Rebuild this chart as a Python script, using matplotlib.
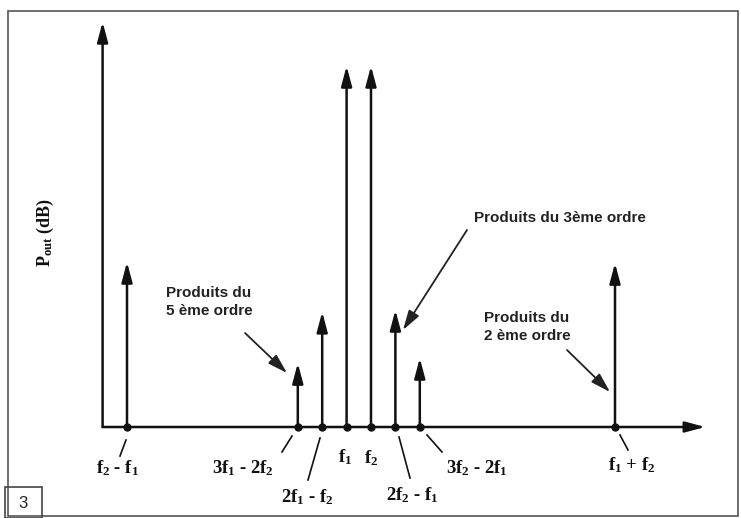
import matplotlib
matplotlib.use("Agg")
import matplotlib.pyplot as plt
from matplotlib.patches import Rectangle

# ---- data -------------------------------------------------------------
# frequencies expressed in units of (f2 - f1), with f1 = 10, f2 = 11
freq_labels = [r"$f_2$ - $f_1$", r"3$f_1$ - 2$f_2$", r"2$f_1$ - $f_2$", r"$f_1$",
               r"$f_2$", r"2$f_2$ - $f_1$", r"3$f_2$ - 2$f_1$", r"$f_1$ + $f_2$"]
freqs = [1, 8, 9, 10, 11, 12, 13, 21]
power = [45.7, 17.7, 31.9, 100, 100, 32.4, 19.1, 45.4]
x_axis_end = 24.7
y_axis_end = 112.2

plt.rcParams["mathtext.fontset"] = "custom"
plt.rcParams["mathtext.rm"] = "Liberation Serif:bold"
plt.rcParams["mathtext.it"] = "Liberation Serif:bold"
plt.rcParams["mathtext.bf"] = "Liberation Serif:bold"

W, H = 741, 518
fig = plt.figure(figsize=(7.41, 5.18), dpi=100, facecolor="white")
ax = fig.add_axes([0, 0, 1, 1])
X0, SX = 102.6, 24.4
Y0, SY = 427.0, 3.61
ax.set_xlim(-X0 / SX, (W - X0) / SX)
ax.set_ylim(-(H - Y0) / SY, Y0 / SY)
ax.axis("off")


def P(px, py):
    return ((px - X0) / SX, (Y0 - py) / SY)


head = "-|>,head_length=0.6,head_width=0.16"
aprops = dict(arrowstyle=head, lw=1.8, color="#111111", mutation_scale=20,
              shrinkA=0, shrinkB=0)

# frame
fx0, fy0 = P(8, 516)
fx1, fy1 = P(738, 11)
ax.add_patch(Rectangle((fx0, fy0), fx1 - fx0, fy1 - fy0, fill=False,
                       edgecolor="#555555", lw=1.2))

# axes arrows
ax.annotate("", xy=(x_axis_end, 0), xytext=(0, 0), arrowprops=aprops)
ax.annotate("", xy=(0, y_axis_end), xytext=(0, 0), arrowprops=aprops)

# spikes
for f, p in zip(freqs, power):
    ax.annotate("", xy=(f, p), xytext=(f, 0), arrowprops=aprops)
ax.plot(freqs, [0] * len(freqs), "o", color="#111111", ms=5, zorder=5)

serif = dict(family="Liberation Serif", fontweight="bold", color="#111111")

# frequency labels with leader lines (reference-pixel positions)
label_pos = [(117, 468), (243, 468), (307, 497), (345, 457), (371, 458),
             (412, 495), (477, 468), (632, 465)]
leaders = [((126, 440), (120, 456)), ((292, 436), (282, 452)),
           ((320, 438), (308, 480)), None, None,
           ((399, 437), (410, 478)), ((427, 435), (442, 452)),
           ((620, 435), (628, 450))]
for lab, pos, ld in zip(freq_labels, label_pos, leaders):
    ax.text(*P(*pos), lab, fontsize=13.5, ha="center", va="center", **serif)
    if ld is not None:
        (a, b), (c, d) = ld
        xa, ya = P(a, b)
        xc, yc = P(c, d)
        ax.plot([xa, xc], [ya, yc], color="#111111", lw=1.2)

# y label
ax.text(*P(45, 233), r"P$_{out}$ (dB)", rotation=90, fontsize=13,
        ha="center", va="center", **serif)

# annotations
ann = dict(fontsize=11, fontweight="bold", family="Liberation Sans",
           color="#222222")
aprops2 = dict(arrowstyle="-|>,head_length=0.6,head_width=0.18", lw=1.3,
               color="#222222", mutation_scale=20, shrinkA=0, shrinkB=0)
ax.text(*P(166, 302), "Produits du\n5 ème ordre", ha="left", va="center",
        linespacing=1.3, **ann)
ax.annotate("", xy=P(287, 373), xytext=P(245, 333), arrowprops=aprops2)
ax.text(*P(474, 218), "Produits du 3ème ordre", ha="left", va="center", **ann)
ax.annotate("", xy=P(403, 330), xytext=P(467, 230), arrowprops=aprops2)
ax.text(*P(484, 327), "Produits du\n2 ème ordre", ha="left", va="center",
        linespacing=1.3, **ann)
ax.annotate("", xy=P(610, 392), xytext=P(567, 350), arrowprops=aprops2)

# figure number box
bx0, by0 = P(5, 518)
bx1, by1 = P(42, 487)
ax.add_patch(Rectangle((bx0, by0), bx1 - bx0, by1 - by0, fill=False,
                       edgecolor="#444444", lw=1.2))
ax.text(*P(23, 503), "3", fontsize=12, family="Liberation Sans",
        ha="center", va="center", color="#222222")

fig.savefig("out.png", dpi=100, facecolor="white")
